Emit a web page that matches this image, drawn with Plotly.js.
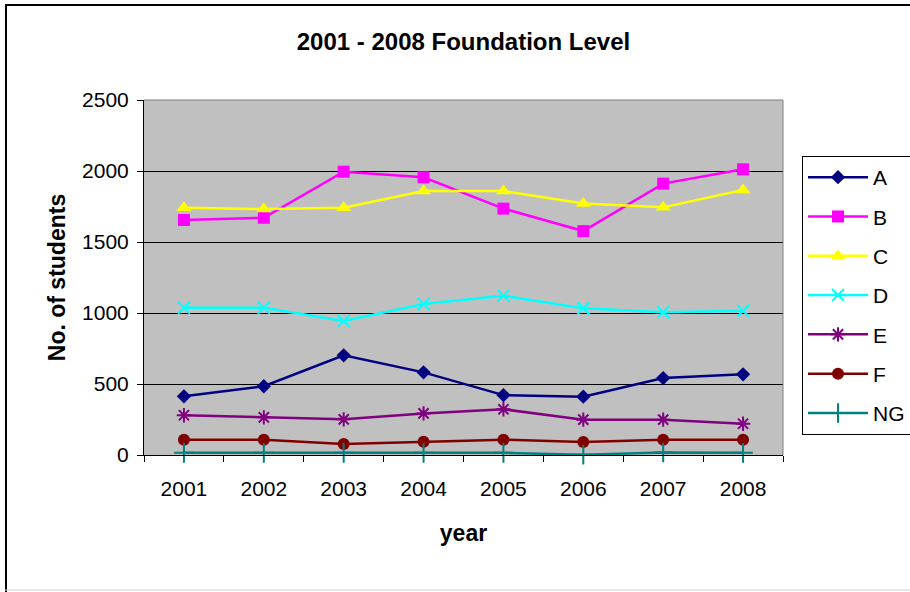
<!DOCTYPE html>
<html>
<head>
<meta charset="utf-8">
<script src="https://cdn.plot.ly/plotly-3.0.1.min.js"></script>
<style>
  html, body { margin: 0; padding: 0; background: #ffffff; }
  #chart { width: 910px; height: 592px; }
</style>
</head>
<body>
<div id="chart"></div>
<script>
// Foundation level student counts per grade, 2001-2008
const years = ['2001', '2002', '2003', '2004', '2005', '2006', '2007', '2008'];
const gradeA = [413, 484, 702, 582, 422, 411, 542, 568];
const gradeB = [1655, 1671, 1995, 1956, 1735, 1577, 1911, 2012];
const gradeC = [1742, 1732, 1742, 1859, 1859, 1772, 1744, 1866];
const gradeD = [1037, 1037, 944, 1063, 1122, 1033, 1005, 1016];
const gradeE = [280, 265, 251, 293, 322, 249, 249, 220];
const gradeF = [108, 108, 77, 94, 108, 92, 108, 108];
const gradeNG = [15, 15, 15, 15, 15, 2, 18, 15];

const FONT = 'Liberation Sans, Arial, sans-serif';

function series(name, values, color, symbol, size, open) {
  return {
    type: 'scatter',
    mode: 'lines+markers',
    name: name,
    legendgroup: name,
    x: years,
    y: values,
    line: { color: color, width: 2.5 },
    marker: {
      symbol: symbol,
      size: size,
      color: color,
      line: { color: color, width: open ? 2 : 0 }
    },
    cliponaxis: false
  };
}

const traces = [
  series('A', gradeA, '#000080', 'diamond', 11, false),
  series('B', gradeB, '#FF00FF', 'square', 12, false),
  series('C', gradeC, '#FFFF00', 'triangle-up', 13, false),
  series('D', gradeD, '#00FFFF', 'x-thin-open', 12, true),
  series('E', gradeE, '#800080', 'asterisk-open', 12, true),
  series('F', gradeF, '#800000', 'circle', 12, false),
  series('NG', gradeNG, '#008080', 'cross-thin-open', 14, true)
];

// pixel -> paper helpers for the outer frame
const L = 144, R = 783, T = 100, B = 455;
const px = v => (v - L) / (R - L);
const py = v => (B - v) / (B - T);

const layout = {
  width: 910,
  height: 592,
  margin: { l: L, r: 910 - R, t: T, b: 592 - B, pad: 0, autoexpand: false },
  paper_bgcolor: '#ffffff',
  plot_bgcolor: '#C0C0C0',
  font: { family: FONT, size: 21, color: '#000000' },
  title: {
    text: '<b>2001 - 2008 Foundation Level</b>',
    font: { family: FONT, size: 24, color: '#000000' },
    x: 0.5, xref: 'paper', xanchor: 'center',
    y: (592 - 42) / 592, yref: 'container', yanchor: 'middle'
  },
  xaxis: {
    type: 'category',
    range: [-0.5, 7.5],
    tickson: 'boundaries',
    ticks: 'outside',
    ticklen: 6,
    tickcolor: '#000000',
    showline: true,
    linecolor: '#000000',
    linewidth: 1,
    showgrid: false,
    zeroline: false,
    tickfont: { family: FONT, size: 21 },
    ticklabelstandoff: 15,
    title: {
      text: '<b>year</b>',
      font: { family: FONT, size: 23 },
      standoff: 25
    },
    automargin: false
  },
  yaxis: {
    range: [0, 2500],
    dtick: 500,
    ticks: 'outside',
    ticklen: 6,
    tickcolor: '#000000',
    showline: true,
    linecolor: '#000000',
    linewidth: 1,
    showgrid: true,
    gridcolor: '#000000',
    gridwidth: 1,
    zeroline: false,
    tickfont: { family: FONT, size: 21 },
    ticklabelstandoff: 4,
    title: {
      text: '<b>No. of students</b>',
      font: { family: FONT, size: 23 },
      standoff: 10
    },
    automargin: false
  },
  showlegend: true,
  legend: {
    x: px(802), xanchor: 'left',
    y: py(156), yanchor: 'top',
    bgcolor: '#ffffff',
    bordercolor: '#000000',
    borderwidth: 1,
    font: { family: FONT, size: 21 },
    tracegroupgap: 9,
    itemwidth: 60
  },
  shapes: [
    // plot area frame on the top and right
    { type: 'line', xref: 'paper', yref: 'paper', x0: 0, x1: 1, y0: 1, y1: 1,
      line: { color: '#808080', width: 1 } },
    { type: 'line', xref: 'paper', yref: 'paper', x0: 1, x1: 1, y0: 0, y1: 1,
      line: { color: '#808080', width: 1 } },
    // outer chart frame
    { type: 'line', xref: 'paper', yref: 'paper', x0: px(6), x1: px(6), y0: py(592), y1: py(5),
      line: { color: '#000000', width: 2 } },
    { type: 'line', xref: 'paper', yref: 'paper', x0: px(5), x1: px(912), y0: py(5), y1: py(5),
      line: { color: '#000000', width: 2 } },
    { type: 'line', xref: 'paper', yref: 'paper', x0: px(5), x1: px(912), y0: py(590), y1: py(590),
      line: { color: '#d0d0d0', width: 1 } }
  ]
};

Plotly.newPlot('chart', traces, layout, { displayModeBar: false, staticPlot: true });
</script>
</body>
</html>
